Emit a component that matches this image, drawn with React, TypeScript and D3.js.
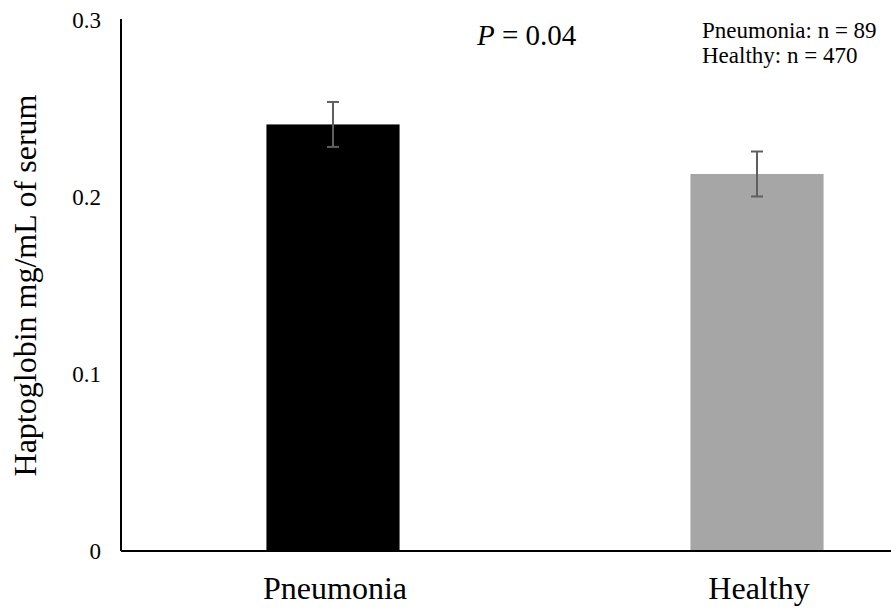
import React from "react";
import * as d3 from "d3";

const categories = ["Pneumonia", "Healthy"];
const values = [0.241, 0.213];
const errors = [0.0127, 0.0127];
const barColors = ["#000000", "#a6a6a6"];
const yTicks = [0, 0.1, 0.2, 0.3];
const yTickLabels = ["0", "0.1", "0.2", "0.3"];
const notes = ["Pneumonia: n = 89", "Healthy: n = 470"];

export default function App() {
  const W = 891, H = 611;
  const left = 121, bottom = 551, top = 20;
  const y = d3.scaleLinear().domain([0, 0.3]).range([bottom, top]);
  const x = d3.scaleBand().domain(categories).range([left, left + 848]).paddingInner(0.686).paddingOuter(0.343);
  const font = "'Liberation Serif', 'Times New Roman', serif";
  return (
    <svg width={W} height={H} style={{ position: "absolute", left: 0, top: 0 }} fontFamily={font}>
      <rect width={W} height={H} fill="#fff" />
      {categories.map((c, i) => {
        const bx = x(c)!;
        const bw = x.bandwidth();
        const cx = bx + bw / 2;
        return (
          <g key={c}>
            <rect x={bx} y={y(values[i])} width={bw} height={bottom - y(values[i])} fill={barColors[i]} />
            <line x1={cx} x2={cx} y1={y(values[i] + errors[i])} y2={y(values[i] - errors[i])} stroke="#5f5f5f" strokeWidth={2} />
            <line x1={cx - 6} x2={cx + 6} y1={y(values[i] + errors[i])} y2={y(values[i] + errors[i])} stroke="#5f5f5f" strokeWidth={2} />
            <line x1={cx - 6} x2={cx + 6} y1={y(values[i] - errors[i])} y2={y(values[i] - errors[i])} stroke="#5f5f5f" strokeWidth={2} />
            <text x={cx + 2} y={599} textAnchor="middle" fontSize={32}>{c}</text>
          </g>
        );
      })}
      <line x1={left} x2={W} y1={bottom} y2={bottom} stroke="#000" strokeWidth={2} />
      <line x1={left} x2={left} y1={y(0.3) - 1} y2={bottom} stroke="#000" strokeWidth={2} />
      {yTicks.map((t, i) => (
        <text key={t} x={101} y={y(t) + 8} textAnchor="end" fontSize={23}>{yTickLabels[i]}</text>
      ))}
      <text transform={`translate(36,${285.5}) rotate(-90)`} textAnchor="middle" fontSize={32}>
        Haptoglobin mg/mL of serum
      </text>
      <text x={477} y={45} fontSize={29}>
        <tspan fontStyle="italic">P</tspan> = 0.04
      </text>
      {notes.map((n, i) => (
        <text key={n} x={702} y={38 + i * 25} fontSize={23}>{n}</text>
      ))}
    </svg>
  );
}
